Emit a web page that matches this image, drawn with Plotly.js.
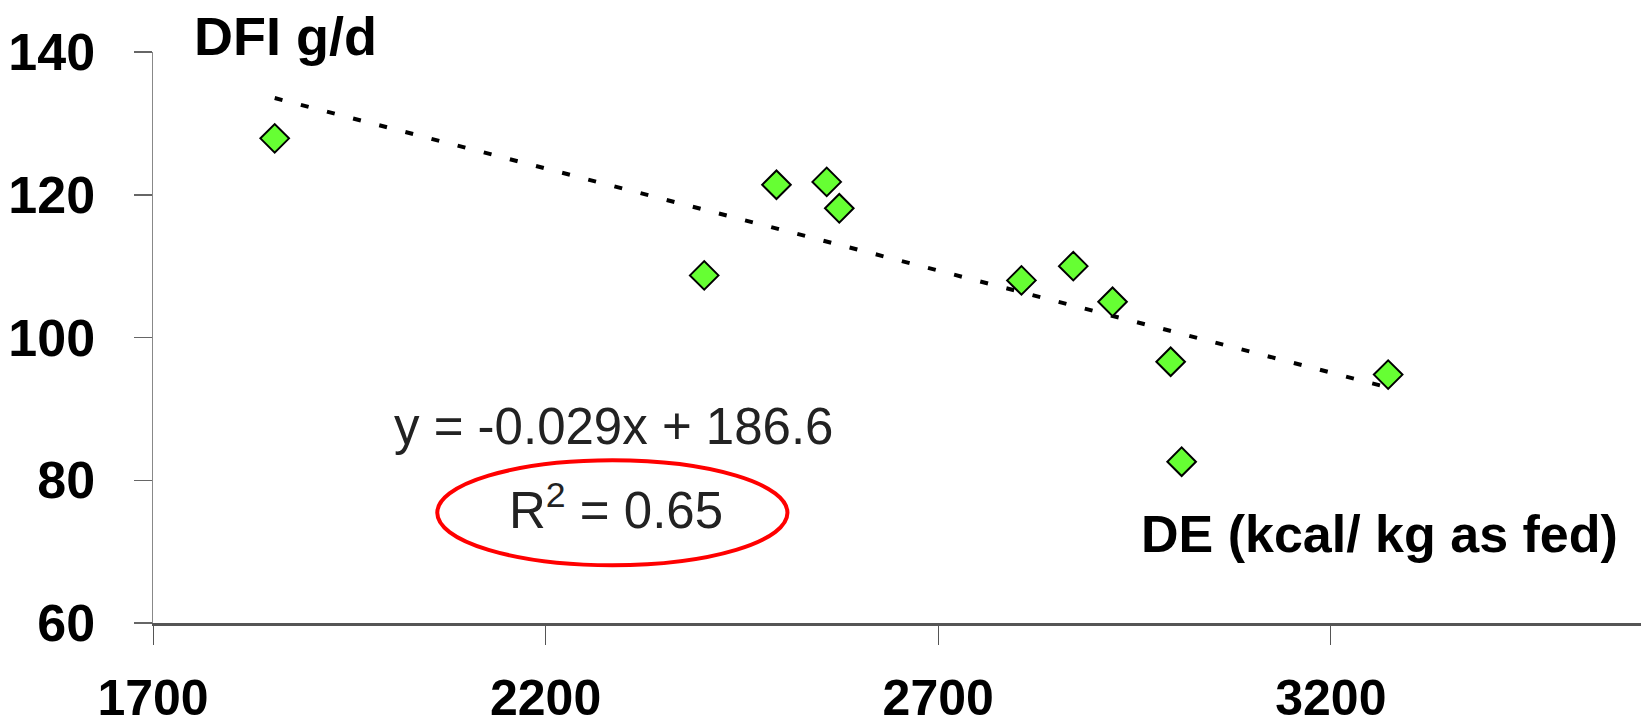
<!DOCTYPE html>
<html>
<head>
<meta charset="utf-8">
<script src="https://cdn.plot.ly/plotly-3.0.1.min.js"></script>
<style>html,body{margin:0;padding:0;background:#fff;}#chart{width:1644px;height:728px;}</style>
</head>
<body>
<div id="chart"></div>
<script>
// Data
const deValues = [1855, 2402, 2494, 2558, 2574, 2806, 2872, 2922, 2996, 3010, 3273];
const dfiValues = [127.9, 108.7, 121.4, 121.8, 118.1, 108.0, 110.0, 105.0, 96.6, 82.6, 94.8];
// unrounded trendline coefficients estimated from the drawn dotted line
const trendSlope = -0.0286;
const trendIntercept = 186.6;
const xTickVals = [1700, 2200, 2700, 3200];
const yTickVals = [60, 80, 100, 120, 140];
const equationText = "y = -0.029x + 186.6";
const r2Text = "R<sup>2</sup> = 0.65";
const yTitle = "DFI g/d";
const xTitle = "DE (kcal/ kg as fed)";

const xMin = Math.min(...deValues), xMax = Math.max(...deValues);
const trendX = [xMin, xMax];
const trendY = trendX.map(v => trendSlope * v + trendIntercept);

const FONT = "Liberation Sans, Arial, Helvetica, sans-serif";

const traces = [
  {
    x: trendX, y: trendY, type: 'scatter', mode: 'lines',
    line: {color: '#000', width: 4, dash: '8px,19px'},
    hoverinfo: 'skip', showlegend: false
  },
  {
    x: deValues, y: dfiValues, type: 'scatter', mode: 'markers',
    marker: {symbol: 'diamond', size: 22, color: '#66ff33', line: {color: '#000', width: 2}},
    showlegend: false
  }
];

const layout = {
  width: 1644, height: 728,
  margin: {l: 153, r: 3, t: 52, b: 105, pad: 0},
  paper_bgcolor: '#fff', plot_bgcolor: '#fff',
  font: {family: FONT, color: '#000'},
  xaxis: {
    range: [1700, 3595], tickvals: xTickVals, ticktext: xTickVals.map(String),
    showgrid: false, zeroline: false,
    showline: true, linecolor: '#555', linewidth: 3,
    ticks: 'outside', ticklen: 19, tickwidth: 1, tickcolor: '#555',
    tickfont: {family: FONT, size: 50, weight: 'bold', color: '#000'},
    ticklabelstandoff: 10
  },
  yaxis: {
    range: [60, 140], tickvals: yTickVals, ticktext: yTickVals.map(String),
    showgrid: false, zeroline: false,
    showline: true, linecolor: '#888', linewidth: 1.5,
    ticks: 'outside', ticklen: 18, tickwidth: 1.5, tickcolor: '#666',
    tickfont: {family: FONT, size: 52, weight: 'bold', color: '#000'},
    ticklabelstandoff: 28
  },
  shapes: [
    {type: 'circle', xref: 'x', yref: 'y', x0: 2062, x1: 2508, y0: 68.1, y1: 82.8,
     line: {color: '#ff0000', width: 4}, fillcolor: 'rgba(0,0,0,0)'}
  ],
  annotations: [
    {text: yTitle, xref: 'paper', yref: 'paper', x: 0.026, y: 1.028, xanchor: 'left', yanchor: 'middle',
     showarrow: false, font: {family: FONT, size: 54, weight: 'bold', color: '#000'}},
    {text: xTitle, xref: 'paper', yref: 'paper', x: 0.986, y: 0.156, xanchor: 'right', yanchor: 'middle',
     showarrow: false, font: {family: FONT, size: 52, weight: 'bold', color: '#000'}},
    {text: equationText, xref: 'x', yref: 'y', x: 2287, y: 87.6, xanchor: 'center', yanchor: 'middle',
     showarrow: false, font: {family: FONT, size: 51, color: '#222'}},
    {text: r2Text, xref: 'x', yref: 'y', x: 2290, y: 76.3, xanchor: 'center', yanchor: 'middle',
     showarrow: false, font: {family: FONT, size: 51, color: '#222'}}
  ]
};

Plotly.newPlot('chart', traces, layout, {displayModeBar: false, staticPlot: true});
</script>
</body>
</html>
